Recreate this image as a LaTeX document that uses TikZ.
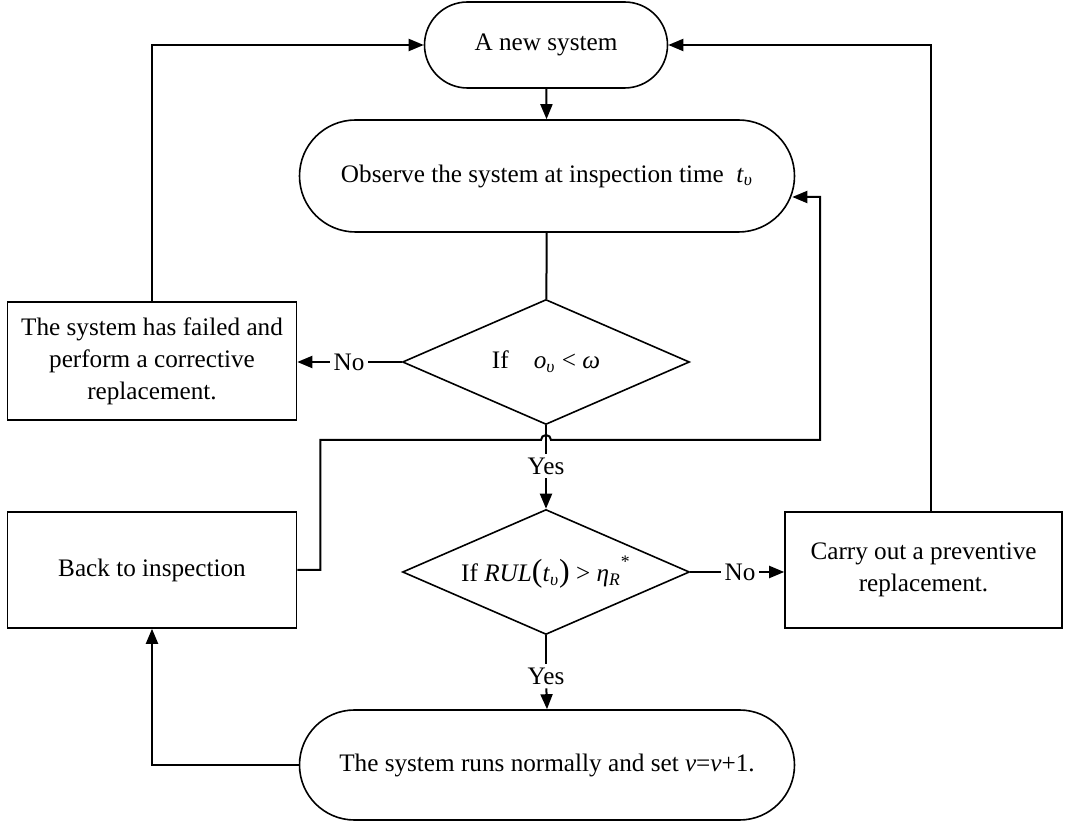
\documentclass[tikz,border=0pt]{standalone}
\usepackage{fontspec}
\setmainfont{Liberation Serif}
\usetikzlibrary{arrows.meta,shapes.geometric,shapes.misc}

\begin{document}
\begin{tikzpicture}[x=0.5pt,y=-0.5pt,line width=1pt,
    >={Triangle[length=7.5pt,width=6pt]},
    font=\fontsize{12.6pt}{16pt}\selectfont,
    term/.style={draw,line width=0.8pt,rounded rectangle,inner sep=0pt},
    decide/.style={draw,line width=0.8pt,diamond,aspect=2.3,inner sep=0pt,
      minimum width=143.5pt,minimum height=62.5pt},
    proc/.style={draw,line width=0.8pt,rectangle,align=center,inner sep=0pt},
    lbl/.style={inner sep=1.5pt}]
  \useasboundingbox (0,0) rectangle (1065,822);
  % terminals
  \node[term,minimum width=121.5pt,minimum height=43pt] (new) at (546,45) {A new system};
  \node[term,minimum width=247.5pt,minimum height=56pt] (obs) at (547,176)
    {Observe the system at inspection time\enspace\textit{t}\textsubscript{\textit{υ}}};
  \node[term,minimum width=247.5pt,minimum height=55pt] (run) at (547,765)
    {The system runs normally and set \textit{v}=\textit{v}+1.};
  % decisions
  \node[decide] (d1) at (546,362)
    {If\quad\textit{o}\textsubscript{\textit{υ}} \textless{} \textit{ω}};
  \node[decide] (d2) at (546,572)
    {If \textit{RUL}{\fontsize{16pt}{16pt}\selectfont(}\textit{t}\textsubscript{\textit{υ}}{\fontsize{16pt}{16pt}\selectfont)} \textgreater{} \textit{η}\textsubscript{\textit{R}}\raisebox{0.5ex}{\textsuperscript{*}}};
  % boxes
  \node[proc,minimum width=144.5pt,minimum height=59pt] (fail) at (152,361)
    {The system has failed and\\perform a corrective\\replacement.};
  \node[proc,minimum width=144.5pt,minimum height=58pt] (back) at (152,570) {Back to inspection};
  \node[proc,minimum width=138.5pt,minimum height=58pt] (carry) at (923.5,570)
    {Carry out a preventive\\replacement.};
  % labels
  \node[lbl] (no1) at (349,362) {No};
  \node[lbl] (no2) at (740,572) {No};
  \node[lbl] (yes1) at (546,466) {Yes};
  \node[lbl] (yes2) at (546,676) {Yes};
  \coordinate (hop) at (546,440);
  \coordinate (turn) at (820,440);

  \draw[->] (new) -- (obs);
  \draw (obs) -- (d1);
  \draw (d1.west) -- (no1);
  \draw[->] (no1) -- (no1 -| fail.east);
  \draw[->] (fail.north) |- (new.west);
  \draw (d1.south) -- (yes1);
  \draw[->] (yes1) -- (d2.north);
  \draw[->] (back.east) -- ++(23,0) |- ([xshift=-2.5pt]hop)
    arc[start angle=180,end angle=0,radius=2.5pt] -- (turn)
    |- ([xshift=-1.5pt,yshift=-10.5pt]obs.east);
  \draw (d2.east) -- (no2);
  \draw[->] (no2) -- (no2 -| carry.west);
  \draw[->] ([xshift=3.5pt]carry.north) |- (new.east);
  \draw (d2.south) -- (yes2);
  \draw[->] (yes2) -- (run.north);
  \draw[->] (run.west) -| (back.south);
\end{tikzpicture}
\end{document}
